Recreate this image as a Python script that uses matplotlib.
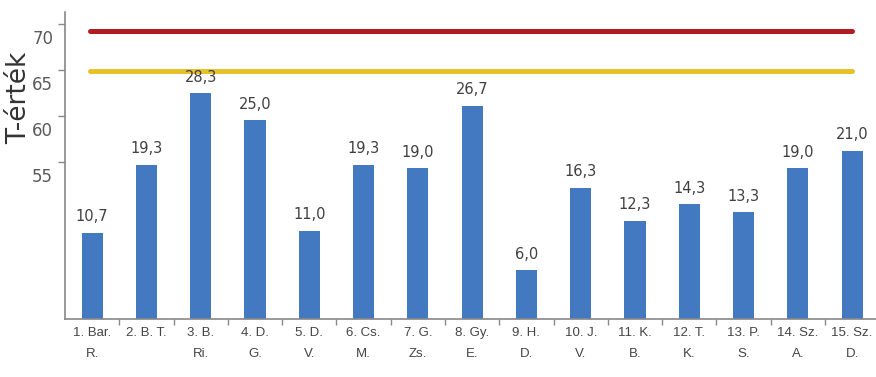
import matplotlib
matplotlib.use("Agg")
import matplotlib.pyplot as plt
from matplotlib.transforms import ScaledTranslation
import numpy as np

categories = ["1. Bar.\nR.", "2. B. T.", "3. B.\nRi.", "4. D.\nG.", "5. D.\nV.",
              "6. Cs.\nM.", "7. G.\nZs.", "8. Gy.\nE.", "9. H.\nD.", "10. J.\nV.",
              "11. K.\nB.", "12. T.\nK.", "13. P.\nS.", "14. Sz.\nA.", "15. Sz.\nD."]
t_values = [47.3, 54.7, 62.5, 59.5, 47.5, 54.7, 54.3, 61.1, 43.2, 52.2,
            48.6, 50.4, 49.5, 54.3, 56.2]
raw_scores = [10.7, 19.3, 28.3, 25.0, 11.0, 19.3, 19.0, 26.7, 6.0, 16.3,
              12.3, 14.3, 13.3, 19.0, 21.0]
red_level = 69.2
yellow_level = 64.9
y_ticks = [55, 60, 65, 70]

fig = plt.figure(figsize=(8.76, 3.77), dpi=100)
ax = fig.add_axes([65/876, 1-319/377, 1-65/876, (319-12)/377])

x = np.arange(len(categories))
ax.bar(x, t_values, width=0.39, color="#4279C0", zorder=2)

ax.plot([x[0]-0.04, x[-1]], [red_level, red_level], color="#B01C22", lw=3.6,
        solid_capstyle="round", zorder=3)
ax.plot([x[0]-0.04, x[-1]], [yellow_level, yellow_level], color="#E6C12A", lw=3.6,
        solid_capstyle="round", zorder=3)

for xi, v, r in zip(x, t_values, raw_scores):
    ax.annotate(f"{r:.1f}".replace(".", ","), (xi, v), xytext=(0, 6),
                textcoords="offset points", ha="center", va="bottom",
                fontsize=10.5, color="#404040", zorder=4)

ax.set_xlim(-0.5, 14.44)
ax.set_ylim(37.9, 71.3)

ax.set_yticks(y_ticks)
ax.set_yticklabels([str(t) for t in y_ticks], fontsize=12, color="#5a5a5a")
ax.tick_params(axis="y", direction="out", length=5, color="#888888", width=1)
for lab in ax.get_yticklabels():
    lab.set_transform(lab.get_transform() + ScaledTranslation(0, -13/100, fig.dpi_scale_trans))

ax.set_xticks(x)
ax.set_xticklabels(categories, fontsize=9.5, color="#444444", linespacing=1.95,
                   family=["Liberation Sans Narrow", "Liberation Sans", "DejaVu Sans"])
ax.tick_params(axis="x", which="major", length=0, pad=6)
ax.set_xticks(np.arange(0.5, 14.5, 1.0), minor=True)
ax.tick_params(axis="x", which="minor", direction="out", length=4, color="#888888", width=1)

for s in ["top", "right"]:
    ax.spines[s].set_visible(False)
for s in ["left", "bottom"]:
    ax.spines[s].set_color("#888888")
    ax.spines[s].set_linewidth(1.2)

fig.text(19/876, 1-98/377, "T-érték", rotation=90, ha="center", va="center",
         fontsize=19, color="#333333")

fig.savefig("out.png", dpi=100)
